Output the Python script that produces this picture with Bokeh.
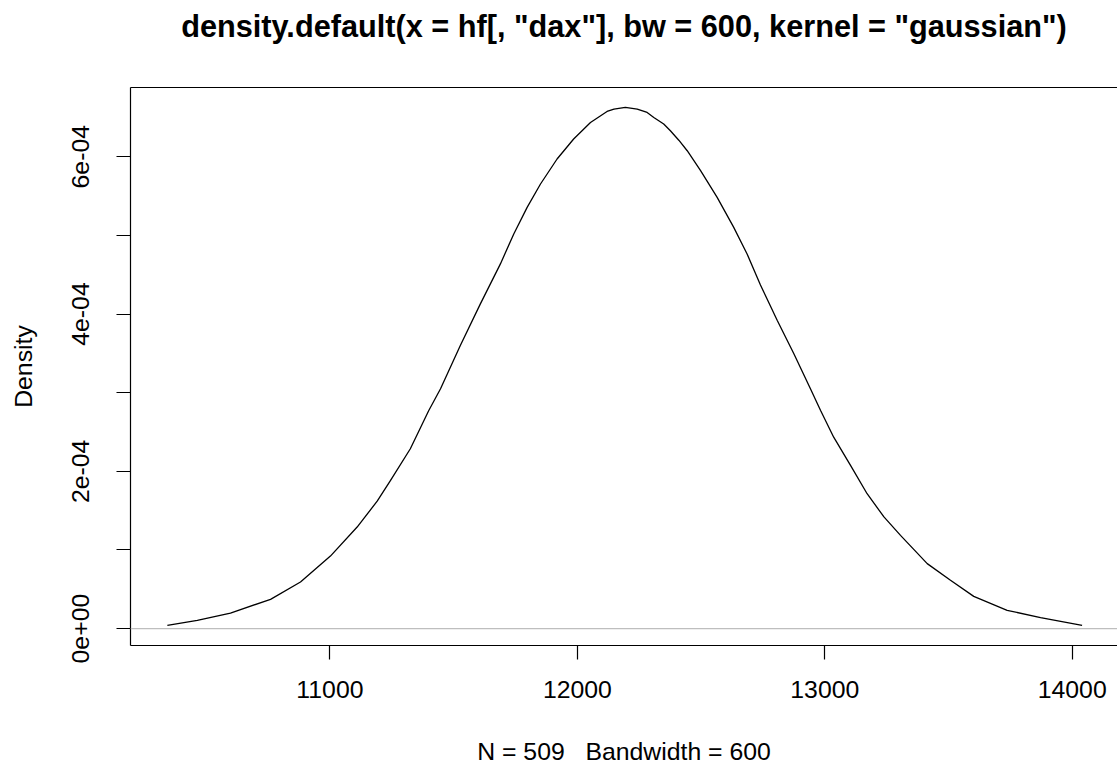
from bokeh.plotting import figure
from bokeh.models import Range1d, FixedTicker, LinearAxis, Span
from bokeh.embed import file_html
from bokeh.resources import INLINE

# Density curve
dax_x = [10343, 10464, 10598, 10760, 10881, 11002, 11110, 11191, 11245, 11325,
         11399, 11447, 11527, 11608, 11689, 11743, 11797, 11851, 11918, 11985,
         12053, 12120, 12148, 12194, 12242, 12282, 12309, 12349, 12376, 12410,
         12444, 12498, 12565, 12632, 12686, 12740, 12808, 12875, 12942, 12983,
         13036, 13104, 13171, 13239, 13306, 13414, 13508, 13602, 13737, 13872,
         14040]
density_y = [4.2e-6, 1.05e-5, 1.98e-5, 3.72e-5, 5.92e-5, 9.22e-5, 1.291e-4, 1.62e-4, 1.884e-4, 2.287e-4,
             2.77e-4, 3.049e-4, 3.60e-4, 4.129e-4, 4.637e-4, 5.018e-4, 5.356e-4, 5.653e-4, 5.971e-4, 6.225e-4,
             6.436e-4, 6.575e-4, 6.606e-4, 6.626e-4, 6.606e-4, 6.563e-4, 6.499e-4, 6.415e-4, 6.330e-4, 6.21e-4,
             6.076e-4, 5.822e-4, 5.483e-4, 5.102e-4, 4.764e-4, 4.37e-4, 3.917e-4, 3.494e-4, 3.049e-4, 2.773e-4,
             2.434e-4, 2.075e-4, 1.715e-4, 1.42e-4, 1.185e-4, 8.26e-5, 6.14e-5, 4.10e-5, 2.32e-5, 1.40e-5,
             4.2e-6]

x_ticks = [11000, 12000, 13000, 14000]
x_tick_labels = ["11000", "12000", "13000", "14000"]
y_ticks = [0.0, 0.0001, 0.0002, 0.0003, 0.0004, 0.0005, 0.0006]
y_tick_labels = ["0e+00", "", "2e-04", "", "4e-04", "", "6e-04"]

title_text = 'density.default(x = hf[, "dax"], bw = 600, kernel = "gaussian")'
x_label = "N = 509\u00a0\u00a0\u00a0Bandwidth = 600"
y_label = "Density"

FONT = "Liberation Sans"
FS = "24.8px"

p = figure(width=1117, height=769, output_backend="svg", toolbar_location=None,
           x_range=Range1d(10194, 14183), y_range=Range1d(-2.15e-5, 6.88e-4),
           min_border_left=130, min_border_right=0, min_border_top=87, min_border_bottom=124)
p.outline_line_color = None
p.grid.visible = False
p.background_fill_color = "white"
p.border_fill_color = "white"

xa = p.xaxis[0]
xa.ticker = FixedTicker(ticks=x_ticks)
xa.major_label_overrides = dict(zip(x_ticks, x_tick_labels))
ya = p.yaxis[0]
ya.ticker = FixedTicker(ticks=y_ticks)
ya.major_label_overrides = dict(zip(y_ticks, y_tick_labels))
ya.major_label_orientation = "vertical"

for ax in (xa, ya):
    ax.axis_line_color = "black"
    ax.axis_line_width = 1.2
    ax.major_tick_line_color = "black"
    ax.major_tick_line_width = 1.2
    ax.major_tick_in = 0
    ax.major_tick_out = 14
    ax.minor_tick_line_color = None
    ax.major_label_text_font = FONT
    ax.major_label_text_font_size = FS
    ax.major_label_text_color = "black"
    ax.axis_label_text_font = FONT
    ax.axis_label_text_font_size = FS
    ax.axis_label_text_font_style = "normal"
    ax.axis_label_text_color = "black"

xa.axis_label = x_label
xa.major_label_standoff = 21
xa.axis_label_standoff = 37
ya.axis_label = y_label
ya.major_label_standoff = 27
ya.axis_label_standoff = 33

# top edge of the box, carrying the main title above it
top = LinearAxis(ticker=FixedTicker(ticks=[]), major_tick_out=0, major_tick_in=0,
                 major_tick_line_color=None, major_label_text_font_size="0px",
                 major_label_standoff=0, axis_line_color="black", axis_line_width=1.2,
                 minor_tick_line_color=None,
                 axis_label=title_text, axis_label_text_font=FONT,
                 axis_label_text_font_size="30.7px", axis_label_text_font_style="bold",
                 axis_label_text_color="black", axis_label_standoff=44)
p.add_layout(top, "above")

p.add_layout(Span(location=0, dimension="width", line_color="#BEBEBE", line_width=1.2))
p.line(dax_x, density_y, line_color="black", line_width=1.3)

open("out.html", "w").write(file_html(p, INLINE))
